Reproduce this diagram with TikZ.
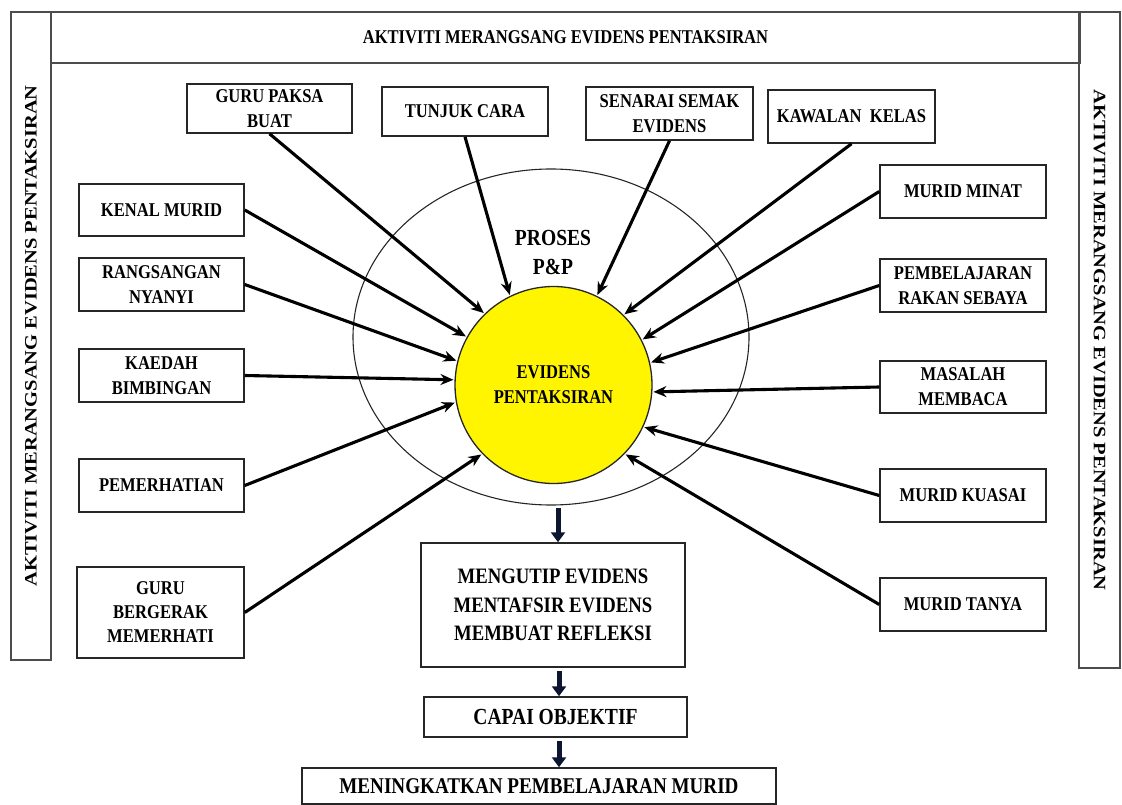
\documentclass[tikz,border=0pt]{standalone}
\usepackage{fontspec}
\usepackage{graphicx}
\setmainfont{Liberation Serif}[FakeStretch=0.85]
\newfontfamily\uprightfont{Liberation Serif}
\usetikzlibrary{arrows.meta,shapes.geometric,calc}
\definecolor{evyellow}{RGB}{255,245,0}
\definecolor{arrnavy}{RGB}{12,22,48}
\begin{document}
\begin{tikzpicture}[x=1pt,y=-1pt,
  box/.style={draw=black!85, line width=1.5pt, fill=white, align=center, inner sep=0pt,
    font=\bfseries\fontsize{19.5}{25}\selectfont},
  strip/.style={draw=black!70, line width=1.5pt, inner sep=0pt},
  vtext/.style={font=\uprightfont\bfseries\fontsize{20.5}{24}\selectfont},
  feed/.style={line width=3.1pt, -{Stealth[length=13pt,width=11pt]}, shorten >=1pt},
  blk/.style={line width=5pt, draw=arrnavy, -{Triangle[length=10pt,width=14pt]}},
]
\useasboundingbox (0,0) rectangle (1122,805);

% frame: title strip on top, vertical strips at both sides
\node[strip, minimum width=1029pt, minimum height=51pt,
  font=\bfseries\fontsize{19.5}{22}\selectfont] (ttl) at (565.5,37.5)
  {AKTIVITI MERANGSANG EVIDENS PENTAKSIRAN};
\node[strip, vtext, rotate=90, minimum width=648pt, minimum height=40pt] (lft) at (31,336)
  {\scalebox{1}[0.85]{AKTIVITI MERANGSANG EVIDENS PENTAKSIRAN}};
\node[strip, vtext, rotate=-90, minimum width=656pt, minimum height=41pt] (rgt) at (1099.5,340)
  {\scalebox{1}[0.85]{AKTIVITI MERANGSANG EVIDENS PENTAKSIRAN}};

% teaching process ring and the central evidence circle
\node[ellipse, draw=black!85, line width=1.1pt, minimum width=396pt, minimum height=336pt,
  inner sep=0pt] (pp) at (551,337) {};
\node[font=\bfseries\fontsize{23}{29}\selectfont, align=center] (ppt) at (553,252)
  {PROSES\\P\&P};
\node[circle, draw=black!85, line width=1.3pt, fill=evyellow, minimum size=197pt,
  inner sep=0pt, align=center, font=\bfseries\fontsize{19.5}{25}\selectfont] (ev)
  at (553.5,385) {EVIDENS\\PENTAKSIRAN};

% stimulating activities
\node[box, minimum width=165pt, minimum height=49pt] (gp) at (269.5,108.5) {GURU PAKSA\\BUAT};
\node[box, minimum width=166pt, minimum height=49pt] (tc) at (465,111.5) {TUNJUK CARA};
\node[box, minimum width=167pt, minimum height=53pt] (ss) at (669.5,113.5) {SENARAI SEMAK\\EVIDENS};
\node[box, minimum width=167pt, minimum height=53pt] (kk) at (851.5,116.5) {KAWALAN\ \ KELAS};

\node[box, minimum width=165pt, minimum height=52pt] (km) at (161.5,210) {KENAL MURID};
\node[box, minimum width=165pt, minimum height=53pt] (rn) at (161.5,284.5) {RANGSANGAN\\NYANYI};
\node[box, minimum width=165pt, minimum height=53pt] (kb) at (161.5,375.5) {KAEDAH\\BIMBINGAN};
\node[box, minimum width=165pt, minimum height=53pt] (pm) at (161.5,485.5) {PEMERHATIAN};
\node[box, minimum width=167pt, minimum height=91pt, font=\bfseries\fontsize{19.5}{24}\selectfont]
  (gb) at (160.5,612.5) {GURU\\BERGERAK\\MEMERHATI};

\node[box, minimum width=166pt, minimum height=53pt] (mm) at (963,191.5) {MURID MINAT};
\node[box, minimum width=166pt, minimum height=53pt] (pr) at (963,285.5) {PEMBELAJARAN\\RAKAN SEBAYA};
\node[box, minimum width=166pt, minimum height=52pt] (mb) at (963,387) {MASALAH\\MEMBACA};
\node[box, minimum width=166pt, minimum height=53pt] (mk) at (963,495.5) {MURID KUASAI};
\node[box, minimum width=166pt, minimum height=53pt] (mt) at (963,604.5) {MURID TANYA};

% outcome chain
\node[box, minimum width=264pt, minimum height=124pt, font=\bfseries\fontsize{22}{28.5}\selectfont]
  (mg) at (553,605) {MENGUTIP EVIDENS\\MENTAFSIR EVIDENS\\MEMBUAT REFLEKSI};
\node[box, minimum width=263pt, minimum height=40pt, font=\bfseries\fontsize{23}{26}\selectfont]
  (cp) at (555.5,717) {CAPAI OBJEKTIF};
\node[box, minimum width=474pt, minimum height=36pt, font=\bfseries\fontsize{22.5}{26}\selectfont]
  (mn) at (539,786) {MENINGKATKAN PEMBELAJARAN MURID};

% activities feeding the evidence
\draw[feed] (gp.south) -- (ev.134);
\draw[feed] (tc.south) -- (ev.116);
\draw[feed] (ss.south) -- (ev.64);
\draw[feed] (kk.south) -- (ev.45);
\draw[feed] (km.east) -- (ev.151);
\draw[feed] (rn.east) -- (ev.166);
\draw[feed] (kb.east) -- (ev.177);
\draw[feed] (pm.east) -- (ev.190);
\draw[feed] (gb.east) -- (ev.224);
\draw[feed] (mm.west) -- (ev.27);
\draw[feed] (pr.west) -- (ev.13);
\draw[feed] (mb.west) -- (ev.-4);
\draw[feed] (mk.west) -- (ev.-25);
\draw[feed] (mt.west) -- (ev.-44);

% downward flow
\draw[blk, shorten <=2pt] ([xshift=7pt]pp.south) -- ([xshift=7pt]pp.south |- mg.north);
\draw[blk, shorten <=3pt] ([xshift=6pt]mg.south) -- ([xshift=6pt]mg.south |- cp.north);
\draw[blk, shorten <=3pt] ([xshift=3.5pt]cp.south) -- ([xshift=3.5pt]cp.south |- mn.north);
\end{tikzpicture}
\end{document}
